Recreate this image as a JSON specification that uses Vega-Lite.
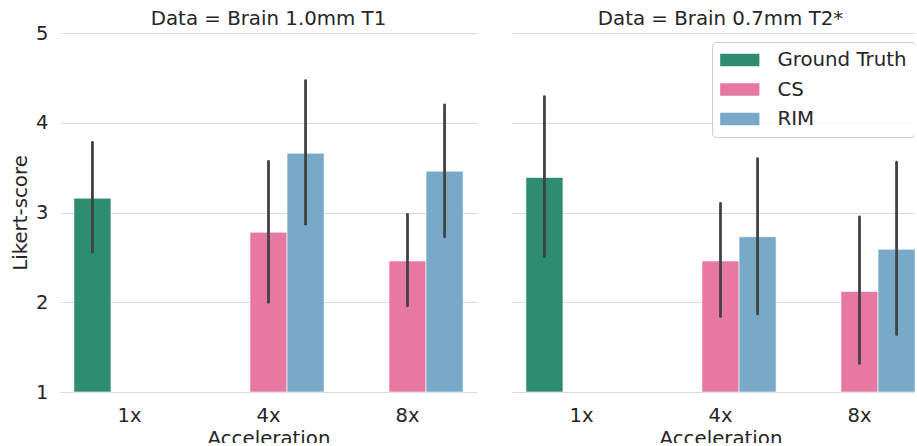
{
  "$schema": "https://vega.github.io/schema/vega-lite/v6.json",
  "background": "white",
  "padding": {"left": 10, "top": 9, "right": -14, "bottom": -6},
  "config": {
    "font": "DejaVu Sans",
    "view": {"stroke": null},
    "axis": {"labelFont": "DejaVu Sans", "titleFont": "DejaVu Sans", "labelColor": "#262626", "titleColor": "#262626", "labelFontSize": 19.5, "titleFontSize": 19.8, "titleFontWeight": "normal"}
  },
  "data": {"values": [
    {"Data": "Brain 1.0mm T1", "Acceleration": "1x", "Method": "Ground Truth", "mean": 3.16, "lo": 2.56, "hi": 3.78},
    {"Data": "Brain 1.0mm T1", "Acceleration": "4x", "Method": "CS", "mean": 2.78, "lo": 2.00, "hi": 3.57},
    {"Data": "Brain 1.0mm T1", "Acceleration": "4x", "Method": "RIM", "mean": 3.66, "lo": 2.87, "hi": 4.47},
    {"Data": "Brain 1.0mm T1", "Acceleration": "8x", "Method": "CS", "mean": 2.46, "lo": 1.96, "hi": 2.98},
    {"Data": "Brain 1.0mm T1", "Acceleration": "8x", "Method": "RIM", "mean": 3.46, "lo": 2.73, "hi": 4.20},
    {"Data": "Brain 0.7mm T2*", "Acceleration": "1x", "Method": "Ground Truth", "mean": 3.39, "lo": 2.51, "hi": 4.29},
    {"Data": "Brain 0.7mm T2*", "Acceleration": "4x", "Method": "CS", "mean": 2.46, "lo": 1.84, "hi": 3.10},
    {"Data": "Brain 0.7mm T2*", "Acceleration": "4x", "Method": "RIM", "mean": 2.73, "lo": 1.87, "hi": 3.60},
    {"Data": "Brain 0.7mm T2*", "Acceleration": "8x", "Method": "CS", "mean": 2.12, "lo": 1.32, "hi": 2.95},
    {"Data": "Brain 0.7mm T2*", "Acceleration": "8x", "Method": "RIM", "mean": 2.59, "lo": 1.64, "hi": 3.56}
  ]},
  "facet": {
    "column": {
      "field": "Data", "type": "nominal",
      "sort": ["Brain 1.0mm T1", "Brain 0.7mm T2*"],
      "header": {"title": null, "labelExpr": "'Data = ' + datum.value", "labelFont": "DejaVu Sans", "labelFontSize": 19.8, "labelColor": "#262626", "labelPadding": 4}
    }
  },
  "spacing": 35,
  "resolve": {"scale": {"y": "shared"}},
  "spec": {
    "width": 417,
    "height": 359,
    "encoding": {
      "x": {
        "field": "Acceleration", "type": "nominal", "sort": ["1x", "4x", "8x"],
        "scale": {"paddingInner": 0.2, "paddingOuter": 0.1},
        "axis": {"labelAngle": 0, "domain": false, "ticks": false, "labelPadding": 13, "titlePadding": 4, "title": "Acceleration"}
      },
      "xOffset": {"field": "Method", "type": "nominal", "sort": ["Ground Truth", "CS", "RIM"], "scale": {"paddingInner": 0, "paddingOuter": 0}}
    },
    "layer": [
      {
        "mark": {"type": "bar", "stroke": "white", "strokeWidth": 1, "strokeOpacity": 0.6},
        "encoding": {
          "y": {"field": "mean", "type": "quantitative", "scale": {"domain": [1, 5], "nice": false, "zero": false},
                "axis": {"values": [1, 2, 3, 4, 5], "format": "d", "domain": false, "ticks": false, "labelPadding": 12, "titlePadding": 5, "grid": true, "gridColor": "#d9d9d9", "gridWidth": 1, "title": "Likert-score"}},
          "y2": {"datum": 1},
          "color": {
            "field": "Method", "type": "nominal",
            "scale": {"domain": ["Ground Truth", "CS", "RIM"], "range": ["#2e8c6f", "#e678a2", "#78a9c8"]},
            "legend": {
              "title": null, "orient": "none", "legendX": 652, "legendY": 9,
              "symbolType": "M-2,-0.64H2V0.64H-2Z", "symbolSize": 385, "symbolStrokeWidth": 0, "symbolOffset": 9.8,
              "labelFont": "DejaVu Sans", "labelFontSize": 19.8, "labelColor": "#262626", "labelOffset": 27.6,
              "rowPadding": 9.5, "padding": 8, "strokeColor": "#cccccc", "fillColor": "rgba(255,255,255,0.8)", "cornerRadius": 4,
              "labelLimit": 300
            }
          }
        }
      },
      {
        "mark": {"type": "rule", "strokeWidth": 2.8, "color": "#424242", "strokeCap": "round"},
        "encoding": {
          "y": {"field": "lo", "type": "quantitative"},
          "y2": {"field": "hi"}
        }
      }
    ]
  }
}
